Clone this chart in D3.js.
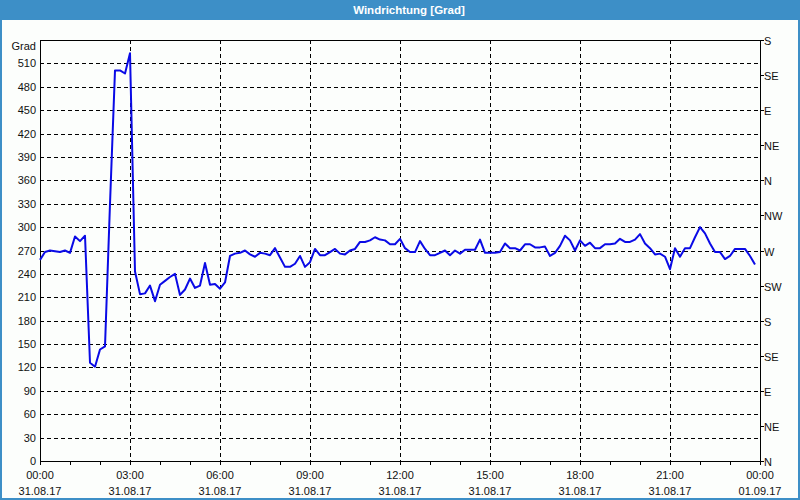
<!DOCTYPE html>
<html><head><meta charset="utf-8">
<script src="https://cdn.jsdelivr.net/npm/d3@7"></script>
<style>html,body{margin:0;padding:0;background:#fff}svg{display:block}</style>
</head><body>
<svg id="chart" width="800" height="500"></svg>
<script>
const title = "Windrichtung [Grad]";
const yUnit = "Grad";
const startTime = "2017-08-31T00:00:00";
const stepMinutes = 10;
const values = [
258,268,270,269,268,270,267,288,282,289,
126,121,143,147,330,501,501,497,523,243,
214,215,225,205,226,231,236,240,213,220,
234,222,225,254,226,227,221,229,263,266,
267,270,265,262,267,266,264,273,261,249,
249,253,263,249,255,272,264,264,268,272,
266,265,270,272,281,281,283,287,284,283,
278,278,285,273,268,268,282,272,264,264,
267,270,264,270,266,271,271,271,284,267,
267,267,268,279,273,273,270,278,278,274,
274,275,263,267,276,289,283,270,283,276,
280,273,273,278,278,279,285,281,281,284,
291,279,273,265,266,262,246,273,262,273,
273,287,300,292,279,268,268,259,263,272,
272,272,263,252];
const leftTicks = [0,30,60,90,120,150,180,210,240,270,300,330,360,390,420,450,480,510];
const rightTicks = [0,45,90,135,180,225,270,315,360,405,450,495,540];
const rightLabels = ["N","NE","E","SE","S","SW","W","NW","N","NE","E","SE","S"];
const yMax = 540;

const svg = d3.select("#chart");
const W = 800, H = 500;
const m = {left:40, right:760, top:40, bottom:461};
const font = "'Liberation Sans', Arial, sans-serif";

svg.append("rect").attr("x",0).attr("y",0).attr("width",W).attr("height",H).attr("fill","#fcfefc");
svg.append("rect").attr("x",0).attr("y",0).attr("width",W).attr("height",20).attr("fill","#3d8fc7");
svg.append("rect").attr("x",1).attr("y",1).attr("width",W-2).attr("height",H-2)
  .attr("fill","none").attr("stroke","#3d8fc7").attr("stroke-width",2);
svg.append("text").attr("x",409).attr("y",14).attr("text-anchor","middle")
  .attr("font-family",font).attr("font-size",11.5).attr("font-weight","bold")
  .attr("fill","#fff").text(title);

const t0 = new Date(startTime);
const t1 = d3.timeDay.offset(t0, 1);
const x = d3.scaleTime().domain([t0, t1]).range([m.left, m.right]);
const y = d3.scaleLinear().domain([0, yMax]).range([m.bottom, m.top]);

const data = values.map((v,i)=>({t:d3.timeMinute.offset(t0, i*stepMinutes), v}));

// gridlines
const g = svg.append("g");
g.selectAll("line.h").data(leftTicks.filter(d=>d>0)).join("line")
  .attr("x1",m.left).attr("x2",m.right)
  .attr("y1",d=>Math.round(y(d))+0.5).attr("y2",d=>Math.round(y(d))+0.5)
  .attr("stroke","#000").attr("stroke-width",1).attr("stroke-dasharray","4,3");
const vTicks = d3.timeHour.every(3).range(t0, t1).filter(d=>+d>+t0);
g.selectAll("line.v").data(vTicks).join("line")
  .attr("x1",d=>Math.round(x(d))+0.5).attr("x2",d=>Math.round(x(d))+0.5)
  .attr("y1",m.top).attr("y2",m.bottom)
  .attr("stroke","#000").attr("stroke-width",1).attr("stroke-dasharray","4,3");

// frame
svg.append("rect").attr("x",m.left+0.5).attr("y",m.top+0.5)
  .attr("width",m.right-m.left).attr("height",m.bottom-m.top)
  .attr("fill","none").attr("stroke","#000").attr("stroke-width",1);

// left axis labels
svg.append("g").selectAll("text").data(leftTicks).join("text")
  .attr("x",36).attr("y",d=>y(d)+4).attr("text-anchor","end")
  .attr("font-family",font).attr("font-size",11).attr("fill","#111").text(d=>d);
svg.append("text").attr("x",36).attr("y",y(yMax)+10).attr("text-anchor","end")
  .attr("font-family",font).attr("font-size",11).attr("fill","#111").text(yUnit);

// right axis
const ra = svg.append("g");
ra.selectAll("line").data(rightTicks).join("line")
  .attr("x1",m.right).attr("x2",m.right+4)
  .attr("y1",d=>Math.round(y(d))+0.5).attr("y2",d=>Math.round(y(d))+0.5)
  .attr("stroke","#000");
ra.selectAll("text").data(rightTicks).join("text")
  .attr("x",m.right+4).attr("y",d=>y(d)+5)
  .attr("font-family",font).attr("font-size",11).attr("fill","#111")
  .text((d,i)=>rightLabels[i]);

// bottom axis ticks
const hTicks = d3.timeHour.every(1).range(t0, d3.timeMinute.offset(t1,1));
svg.append("g").selectAll("line").data(hTicks).join("line")
  .attr("x1",d=>Math.round(x(d))+0.5).attr("x2",d=>Math.round(x(d))+0.5)
  .attr("y1",m.bottom).attr("y2",m.bottom+4).attr("stroke","#000");
const lTicks = d3.timeHour.every(3).range(t0, d3.timeMinute.offset(t1,1));
const fTime = d3.timeFormat("%H:%M"), fDate = d3.timeFormat("%d.%m.%y");
const bl = svg.append("g").selectAll("g").data(lTicks).join("g");
bl.append("text").attr("x",d=>x(d)).attr("y",479).attr("text-anchor","middle")
  .attr("font-family",font).attr("font-size",11).attr("fill","#111").text(d=>fTime(d));
bl.append("text").attr("x",d=>x(d)).attr("y",495).attr("text-anchor","middle")
  .attr("font-family",font).attr("font-size",11).attr("fill","#111").text(d=>fDate(d));

// line
svg.append("path").datum(data)
  .attr("d", d3.line().x(d=>x(d.t)).y(d=>y(d.v)))
  .attr("fill","none").attr("stroke","#0a0ae6").attr("stroke-width",2)
  .attr("stroke-linejoin","round");
</script>
</body></html>
